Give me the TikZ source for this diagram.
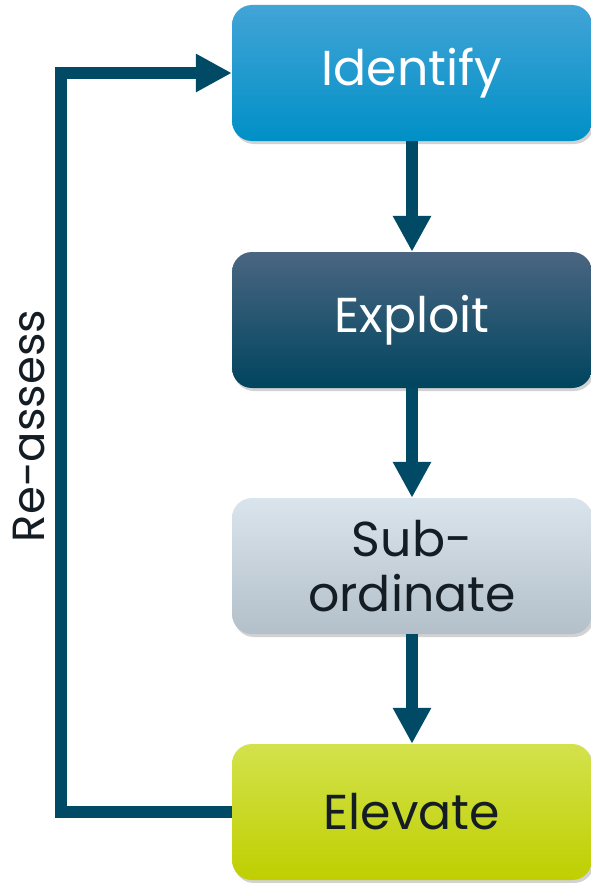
\documentclass[tikz,border=0pt]{standalone}
\usepackage{fontspec}
\setmainfont{Poppins}
\usetikzlibrary{arrows.meta,shadows}

\definecolor{linkblue}{HTML}{004A66}
\definecolor{inktext}{HTML}{141C24}
\definecolor{idtop}{HTML}{42A4D7}
\definecolor{idmid}{HTML}{009DD5}
\definecolor{idbot}{HTML}{0090C6}
\definecolor{extop}{HTML}{4A6682}
\definecolor{exmid}{HTML}{004A6B}
\definecolor{exbot}{HTML}{00445E}
\definecolor{sutop}{HTML}{DAE4ED}
\definecolor{sumid}{HTML}{CFDBE4}
\definecolor{subot}{HTML}{B3C0C9}
\definecolor{eltop}{HTML}{D3E24C}
\definecolor{elmid}{HTML}{CBDF00}
\definecolor{elbot}{HTML}{BFCF00}

\tikzset{
  stepbox/.style={rounded corners=20pt, minimum width=360pt, minimum height=136pt,
    inner sep=0pt, align=center, font=\fontsize{49}{55}\selectfont,
    drop shadow={shadow xshift=2pt, shadow yshift=-3pt, opacity=0.35}},
  flow/.style={draw=linkblue, line width=12pt,
    -{Triangle[width=36pt,length=36pt]}},
}

\begin{document}
\begin{tikzpicture}[x=1pt,y=-1pt]
  \useasboundingbox (0,0) rectangle (591,883);
  \fill[white] (0,0) rectangle (591,883);

  \node[stepbox, top color=idtop, middle color=idmid, bottom color=idbot, text=white]
    (idf) at (412,73) {Identify};
  \node[stepbox, top color=extop, middle color=exmid, bottom color=exbot, text=white]
    (exp) at (412,320) {Exploit};
  \node[stepbox, top color=sutop, middle color=sumid, bottom color=subot, text=inktext]
    (sub) at (412,566) {Sub-\\ordinate};
  \node[stepbox, top color=eltop, middle color=elmid, bottom color=elbot, text=inktext]
    (elv) at (412,812) {Elevate};

  \draw[flow] (idf.south) -- (exp.north);
  \draw[flow] (exp.south) -- (sub.north);
  \draw[flow] (sub.south) -- (elv.north);

  % feedback loop from the last step back to the first
  \coordinate (lb) at (61,812);
  \coordinate (lt) at (61,73);
  \draw[flow, line cap=butt] (elv.west) -- (lb) -- (lt) -- (idf.west);

  \node[rotate=90, text=inktext, font=\fontsize{45}{50}\selectfont] (lbl) at (29,426) {Re-assess};
\end{tikzpicture}
\end{document}
